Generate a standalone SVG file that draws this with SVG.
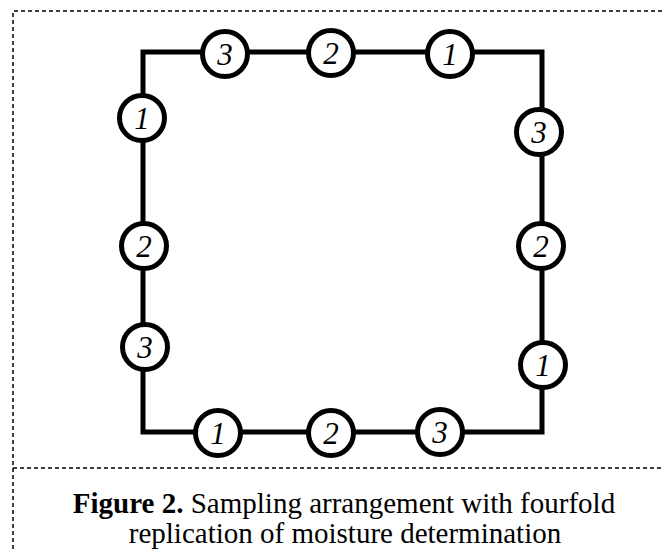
<svg xmlns="http://www.w3.org/2000/svg" width="663" height="549" viewBox="0 0 663 549">
<style>
.frame{fill:none;stroke:#000;stroke-width:1.5;stroke-dasharray:4,3}
.edge{fill:none;stroke:#000;stroke-width:5}
.node circle{fill:#fff;stroke:#000;stroke-width:5}
.node text{font-family:"Liberation Serif","Times New Roman",serif;font-style:italic;font-size:31px;text-anchor:middle;fill:#000}
.cap{font-family:"Liberation Serif","Times New Roman",serif;font-size:29px;text-anchor:middle;fill:#000}
</style>
<rect width="663" height="549" fill="#fff"/>
<g id="frame">
<path class="frame" d="M13,549 V11 H663"/>
<path class="frame" d="M13,468 H663"/>
</g>
<g id="connectors">
<path class="edge" d="M143,52 H542 V432 H143 Z"/>
</g>
<g id="t3" class="node"><circle cx="225" cy="54" r="22.5"/><text x="225" y="65">3</text></g>
<g id="t2" class="node"><circle cx="331" cy="53" r="22.5"/><text x="331" y="64">2</text></g>
<g id="t1" class="node"><circle cx="450" cy="54" r="22.5"/><text x="450" y="65">1</text></g>
<g id="r3" class="node"><circle cx="539" cy="132" r="22.5"/><text x="539" y="143">3</text></g>
<g id="r2" class="node"><circle cx="541" cy="246" r="22.5"/><text x="541" y="257">2</text></g>
<g id="r1" class="node"><circle cx="543" cy="365" r="22.5"/><text x="543" y="376">1</text></g>
<g id="l1" class="node"><circle cx="142" cy="118" r="22.5"/><text x="142" y="129">1</text></g>
<g id="l2" class="node"><circle cx="144" cy="246" r="22.5"/><text x="144" y="257">2</text></g>
<g id="l3" class="node"><circle cx="145" cy="347" r="22.5"/><text x="145" y="358">3</text></g>
<g id="b1" class="node"><circle cx="218" cy="433" r="22.5"/><text x="218" y="444">1</text></g>
<g id="b2" class="node"><circle cx="331" cy="433" r="22.5"/><text x="331" y="444">2</text></g>
<g id="b3" class="node"><circle cx="440" cy="432" r="22.5"/><text x="440" y="443">3</text></g>
<g id="caption">
<text class="cap" x="344" y="513"><tspan font-weight="bold">Figure 2.</tspan> Sampling arrangement with fourfold</text>
<text class="cap" x="345" y="543">replication of moisture determination</text>
</g>
</svg>
